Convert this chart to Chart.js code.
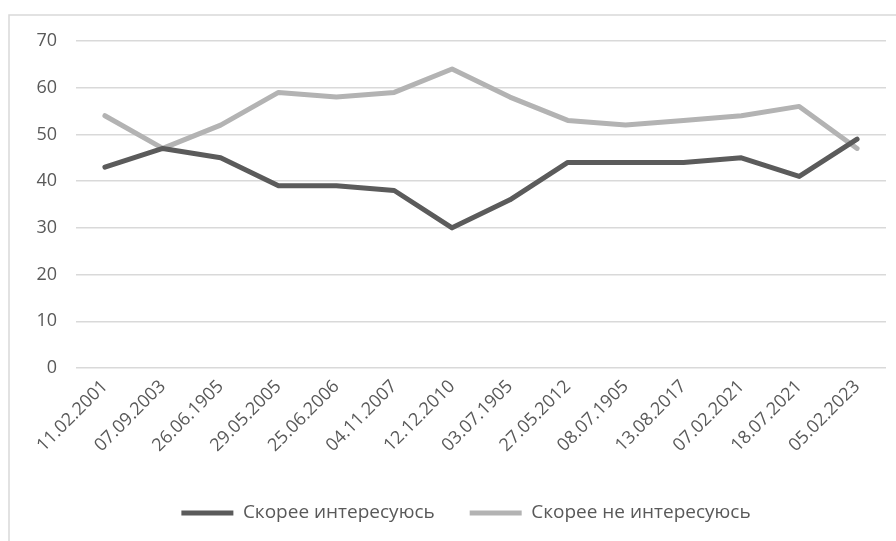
<!DOCTYPE html>
<html>
<head>
<meta charset="utf-8">
<script src="https://cdn.jsdelivr.net/npm/chart.js@4/dist/chart.umd.min.js"></script>
<style>
html,body{margin:0;padding:0;background:#fff;}
#wrap{position:relative;width:896px;height:541px;}
</style>
</head>
<body>
<div id="wrap"><canvas id="c" width="896" height="541"></canvas></div>
<script>
const categories = ["11.02.2001","07.09.2003","26.06.1905","29.05.2005","25.06.2006","04.11.2007","12.12.2010","03.07.1905","27.05.2012","08.07.1905","13.08.2017","07.02.2021","18.07.2021","05.02.2023"];
const interested = [43,47,45,39,39,38,30,36,44,44,44,45,41,49];
const notInterested = [54,47,52,59,58,59,64,58,53,52,53,54,56,47];
const seriesNames = ["Скорее интересуюсь","Скорее не интересуюсь"];
const yTicks = [0,10,20,30,40,50,60,70];

const framePlugin = {
  id: 'frame',
  afterLayout(chart){
    if (chart.legend) { chart.legend.left += 23; chart.legend.right += 23; }
  },
  beforeDraw(chart){
    const ctx = chart.ctx;
    ctx.save();
    ctx.strokeStyle = '#d9d9d9';
    ctx.lineWidth = 1.5;
    ctx.beginPath();
    ctx.moveTo(9, 541);
    ctx.lineTo(9, 15);
    ctx.lineTo(896, 15);
    ctx.stroke();
    ctx.restore();
  }
};

new Chart(document.getElementById('c'), {
  type: 'line',
  data: {
    labels: categories,
    datasets: [
      {label: seriesNames[0], data: interested, borderColor: '#5b5b5b', backgroundColor: '#5b5b5b', borderWidth: 5, pointRadius: 0, borderCapStyle: 'round', borderJoinStyle: 'round', tension: 0},
      {label: seriesNames[1], data: notInterested, borderColor: '#b3b3b3', backgroundColor: '#b3b3b3', borderWidth: 5, pointRadius: 0, borderCapStyle: 'round', borderJoinStyle: 'round', tension: 0}
    ]
  },
  plugins: [framePlugin],
  options: {
    responsive: false,
    animation: false,
    layout: {padding: {top: 41, left: 0, right: 10, bottom: 8.5}},
    plugins: {
      legend: {
        position: 'bottom',
        labels: {
          usePointStyle: true,
          pointStyle: 'line',
          pointStyleWidth: 52,
          boxHeight: 5,
          padding: 35,
          color: '#595959',
          font: {family: 'Open Sans', size: 19}
        }
      },
      tooltip: {enabled: false}
    },
    scales: {
      x: {
        offset: true,
        grid: {display: false, drawTicks: false},
        border: {display: false},
        ticks: {color: '#595959', font: {family: 'Open Sans', size: 18}, minRotation: 45, maxRotation: 45, padding: 8, autoSkip: false},
        afterFit(s){ s.height = 100.5; }
      },
      y: {
        min: 0, max: 70,
        afterBuildTicks(s){ s.ticks = yTicks.map(v => ({value: v})); },
        grid: {color: '#d9d9d9', lineWidth: 1.5, drawTicks: false},
        border: {display: false},
        ticks: {color: '#595959', font: {family: 'Open Sans', size: 18}, padding: 19},
        afterFit(s){ s.width = 76; }
      }
    }
  }
});
</script>
</body>
</html>
